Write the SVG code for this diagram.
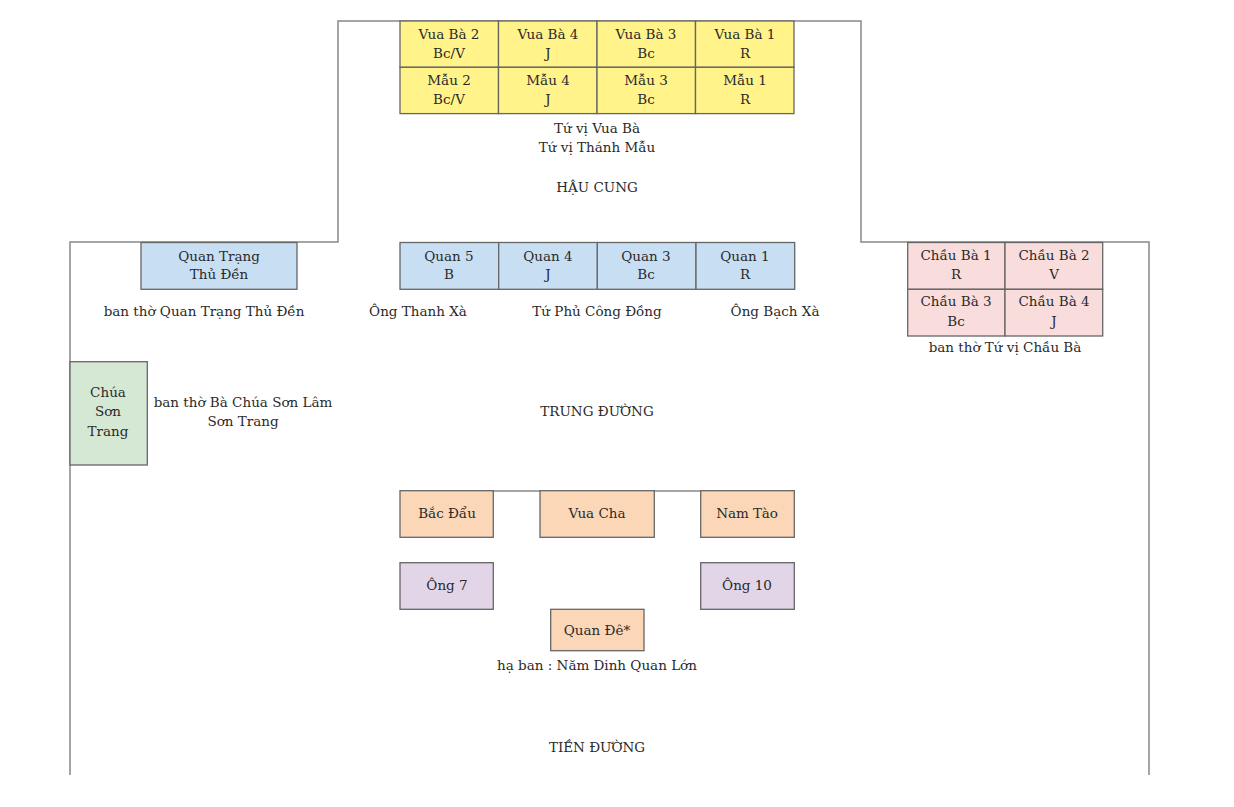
<svg xmlns="http://www.w3.org/2000/svg" width="1234" height="807" viewBox="0 0 1234 807">
<style>
text{font-family:"DejaVu Serif","Liberation Serif",serif;font-size:13.5px;fill:#2a2a2a;text-anchor:middle;dominant-baseline:central}
.b{stroke:#666;stroke-width:1.3}
.y{fill:#fff38a}.bl{fill:#c8def3}.p{fill:#f9dcdc}.g{fill:#d5e8d4}.o{fill:#fbd7b8}.v{fill:#e1d5e7}
.w{fill:none;stroke:#888;stroke-width:1.5}
</style>
<rect width="1234" height="807" fill="#fff"/>
<g id="walls">
<polyline class="w" points="70,775 70,242 338,242 338,21 861,21 861,242 1149,242 1149,775"/>
</g>
<g id="connectors">
<line class="w" x1="493" y1="491" x2="540" y2="491"/>
<line class="w" x1="654" y1="491" x2="701" y2="491"/>
</g>
<g id="vua-ba-grid">
<rect class="b y" x="400" y="21" width="98.5" height="46.3"/>
<rect class="b y" x="498.5" y="21" width="98.5" height="46.3"/>
<rect class="b y" x="597" y="21" width="98.5" height="46.3"/>
<rect class="b y" x="695.5" y="21" width="98.5" height="46.3"/>
<rect class="b y" x="400" y="67.3" width="98.5" height="46.3"/>
<rect class="b y" x="498.5" y="67.3" width="98.5" height="46.3"/>
<rect class="b y" x="597" y="67.3" width="98.5" height="46.3"/>
<rect class="b y" x="695.5" y="67.3" width="98.5" height="46.3"/>
<text x="449" y="34">Vua Bà 2</text><text x="449" y="53">Bc/V</text>
<text x="548" y="34">Vua Bà 4</text><text x="548" y="53">J</text>
<text x="646" y="34">Vua Bà 3</text><text x="646" y="53">Bc</text>
<text x="745" y="34">Vua Bà 1</text><text x="745" y="53">R</text>
<text x="449" y="80">Mẫu 2</text><text x="449" y="99">Bc/V</text>
<text x="548" y="80">Mẫu 4</text><text x="548" y="99">J</text>
<text x="646" y="80">Mẫu 3</text><text x="646" y="99">Bc</text>
<text x="745" y="80">Mẫu 1</text><text x="745" y="99">R</text>
</g>
<g id="labels-hau-cung">
<text x="597" y="128">Tứ vị Vua Bà</text>
<text x="597" y="147">Tứ vị Thánh Mẫu</text>
<text x="597" y="187">HẬU CUNG</text>
</g>
<g id="quan-trang">
<rect class="b bl" x="141" y="242.5" width="156" height="46.8"/>
<text x="219" y="256">Quan Trạng</text><text x="219" y="274">Thủ Đền</text>
<text x="204" y="311">ban thờ Quan Trạng Thủ Đền</text>
</g>
<g id="quan-grid">
<rect class="b bl" x="400" y="242.5" width="98.7" height="46.8"/>
<rect class="b bl" x="498.7" y="242.5" width="98.7" height="46.8"/>
<rect class="b bl" x="597.3" y="242.5" width="98.7" height="46.8"/>
<rect class="b bl" x="696" y="242.5" width="98.7" height="46.8"/>
<text x="449" y="256">Quan 5</text><text x="449" y="274">B</text>
<text x="548" y="256">Quan 4</text><text x="548" y="274">J</text>
<text x="646" y="256">Quan 3</text><text x="646" y="274">Bc</text>
<text x="745" y="256">Quan 1</text><text x="745" y="274">R</text>
<text x="418" y="311">Ông Thanh Xà</text>
<text x="597" y="311">Tứ Phủ Công Đồng</text>
<text x="775" y="311">Ông Bạch Xà</text>
</g>
<g id="chau-ba-grid">
<rect class="b p" x="907.7" y="242.5" width="97.3" height="46.8"/>
<rect class="b p" x="1005" y="242.5" width="97.7" height="46.8"/>
<rect class="b p" x="907.7" y="289.3" width="97.3" height="46.7"/>
<rect class="b p" x="1005" y="289.3" width="97.7" height="46.7"/>
<text x="956" y="255">Chầu Bà 1</text><text x="956" y="274">R</text>
<text x="1054" y="255">Chầu Bà 2</text><text x="1054" y="274">V</text>
<text x="956" y="301">Chầu Bà 3</text><text x="956" y="321">Bc</text>
<text x="1054" y="301">Chầu Bà 4</text><text x="1054" y="321">J</text>
<text x="1005" y="347">ban thờ Tứ vị Chầu Bà</text>
</g>
<g id="chua-son-trang">
<rect class="b g" x="70" y="361.7" width="77.3" height="103.3"/>
<text x="108" y="392">Chúa</text><text x="108" y="411">Sơn</text><text x="108" y="431">Trang</text>
<text x="243" y="402">ban thờ Bà Chúa Sơn Lâm</text>
<text x="243" y="421">Sơn Trang</text>
</g>
<g id="trung-duong"><text x="597" y="411">TRUNG ĐƯỜNG</text></g>
<g id="bac-dau"><rect class="b o" x="400" y="490.7" width="93.3" height="46.6"/><text x="447" y="513">Bắc Đẩu</text></g>
<g id="vua-cha"><rect class="b o" x="540" y="490.7" width="114.3" height="46.6"/><text x="597" y="513">Vua Cha</text></g>
<g id="nam-tao"><rect class="b o" x="700.7" y="490.7" width="93.6" height="46.6"/><text x="747" y="513">Nam Tào</text></g>
<g id="ong-7"><rect class="b v" x="400" y="562.7" width="93.3" height="46.6"/><text x="447" y="585">Ông 7</text></g>
<g id="ong-10"><rect class="b v" x="700.7" y="562.7" width="93.6" height="46.6"/><text x="747" y="585">Ông 10</text></g>
<g id="quan-de"><rect class="b o" x="550.7" y="609.3" width="93.3" height="41.4"/><text x="597" y="630">Quan Đê*</text>
<text x="597" y="665">hạ ban : Năm Dinh Quan Lớn</text></g>
<g id="tien-duong"><text x="597" y="747">TIỀN ĐƯỜNG</text></g>
</svg>
